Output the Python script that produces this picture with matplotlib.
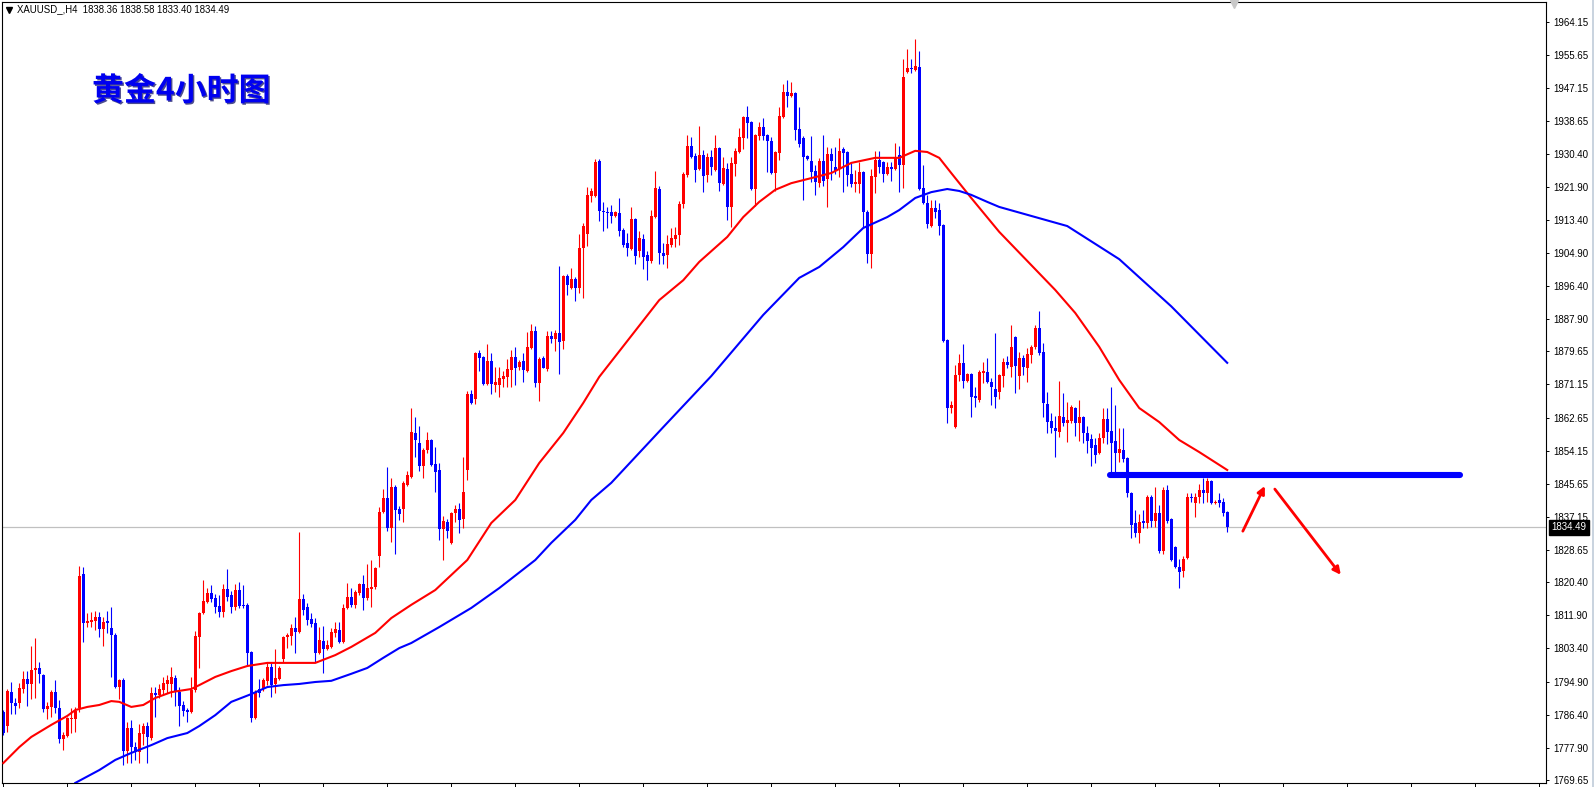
import matplotlib
matplotlib.use("Agg")
import matplotlib.pyplot as plt
import matplotlib.patheffects as pe
import matplotlib.transforms as mtransforms
from matplotlib.lines import Line2D
import numpy as np

# ── data: XAUUSD H4 candles ──────────────────────────────────────────────────
opens = [
    1787.1, 1783.5, 1792.2, 1789.4, 1789.4, 1793.0, 1795.6, 1794.3, 1797.9, 1798.4,
    1796.6, 1787.9, 1788.4, 1792.2, 1788.1, 1780.2, 1780.9, 1785.3, 1785.3, 1788.1,
    1822.5, 1809.9, 1810.2, 1810.5, 1811.5, 1808.4, 1810.5, 1808.6, 1806.9, 1793.5,
    1795.3, 1777.1, 1783.0, 1778.1, 1776.8, 1781.5, 1783.5, 1780.4, 1792.0, 1791.5,
    1792.8, 1794.3, 1794.3, 1795.8, 1792.2, 1788.9, 1787.6, 1787.1, 1792.7, 1806.3,
    1812.5, 1815.3, 1817.6, 1816.3, 1814.3, 1812.8, 1818.7, 1817.1, 1814.0, 1818.4,
    1814.6, 1814.6, 1802.5, 1785.6, 1793.0, 1793.0, 1795.0, 1798.6, 1794.3, 1795.6,
    1800.7, 1806.3, 1806.6, 1808.6, 1807.6, 1816.1, 1814.0, 1810.9, 1809.9, 1802.2,
    1805.3, 1803.3, 1803.8, 1807.4, 1808.1, 1805.1, 1813.8, 1816.6, 1814.6, 1817.6,
    1819.9, 1816.3, 1818.7, 1819.2, 1827.1, 1838.4, 1842.0, 1834.3, 1844.8, 1839.2,
    1839.2, 1845.3, 1847.4, 1858.7, 1856.0, 1850.2, 1854.3, 1856.9, 1850.7, 1849.2,
    1834.0, 1835.9, 1830.5, 1838.2, 1839.2, 1836.6, 1849.2, 1868.7, 1867.4, 1879.2,
    1878.2, 1871.3, 1877.2, 1871.0, 1871.0, 1872.5, 1873.1, 1874.9, 1878.2, 1875.6,
    1877.2, 1874.6, 1880.5, 1884.9, 1871.5, 1877.9, 1875.1, 1883.6, 1882.8, 1884.4,
    1882.3, 1899.0, 1895.9, 1898.2, 1895.9, 1906.2, 1909.8, 1919.5, 1919.5, 1928.5,
    1915.7, 1915.4, 1915.4, 1914.4, 1915.2, 1910.8, 1907.5, 1905.9, 1913.6, 1905.4,
    1908.5, 1904.4, 1902.8, 1914.1, 1921.3, 1904.9, 1904.4, 1906.9, 1908.5, 1909.5,
    1917.5, 1924.9, 1932.3, 1929.8, 1926.4, 1930.0, 1924.9, 1929.5, 1926.2, 1931.8,
    1922.6, 1926.4, 1916.7, 1927.7, 1930.8, 1934.4, 1939.8, 1938.5, 1921.3, 1934.9,
    1937.2, 1935.2, 1933.6, 1925.4, 1930.5, 1939.8, 1946.2, 1945.2, 1945.9, 1936.7,
    1934.4, 1929.8, 1928.5, 1925.9, 1922.8, 1928.5, 1923.9, 1930.3, 1927.0, 1926.4,
    1931.6, 1930.8, 1925.2, 1922.6, 1922.6, 1925.7, 1915.4, 1904.6, 1924.4, 1928.7,
    1928.2, 1925.2, 1926.9, 1926.4, 1930.0, 1927.5, 1951.3, 1952.4, 1951.8, 1952.6,
    1921.6, 1917.7, 1911.8, 1916.4, 1915.9, 1912.1, 1882.6, 1865.1, 1860.2, 1873.6,
    1876.7, 1872.0, 1873.8, 1868.2, 1867.2, 1874.1, 1874.3, 1871.8, 1870.0, 1869.2,
    1873.3, 1876.9, 1875.6, 1883.3, 1873.3, 1877.9, 1875.4, 1878.7, 1880.8, 1885.6,
    1879.5, 1866.1, 1861.8, 1860.0, 1858.9, 1862.8, 1861.3, 1861.8, 1865.1, 1861.3,
    1862.8, 1858.7, 1857.1, 1855.6, 1853.6, 1857.4, 1862.3, 1859.2, 1856.6, 1853.6,
    1854.3, 1852.3, 1843.3, 1835.6, 1833.0, 1836.1, 1835.6, 1842.3, 1836.1, 1838.2,
    1828.4, 1844.1, 1836.6, 1829.4, 1824.3, 1823.3, 1826.6, 1842.3, 1840.7, 1842.3,
    1844.1, 1843.3, 1846.4, 1840.7, 1841.5, 1841.0, 1838.36]

highs = [
    1787.6, 1793.0, 1794.8, 1790.7, 1794.5, 1797.6, 1797.6, 1804.0, 1806.1, 1799.9,
    1796.9, 1789.7, 1792.8, 1795.3, 1790.2, 1782.0, 1785.8, 1788.1, 1788.4, 1824.6,
    1824.3, 1812.5, 1812.8, 1813.0, 1812.8, 1811.5, 1813.0, 1814.0, 1807.4, 1795.6,
    1795.8, 1784.5, 1785.1, 1779.4, 1784.0, 1784.3, 1784.5, 1793.5, 1793.5, 1794.3,
    1796.1, 1796.6, 1798.6, 1796.6, 1793.5, 1789.9, 1788.1, 1796.1, 1807.9, 1812.8,
    1821.0, 1818.9, 1819.7, 1817.4, 1817.1, 1819.9, 1823.8, 1818.1, 1819.9, 1820.5,
    1819.7, 1815.1, 1802.8, 1792.8, 1795.6, 1795.8, 1799.7, 1799.7, 1803.3, 1798.9,
    1806.6, 1807.4, 1809.6, 1811.5, 1833.3, 1817.4, 1815.1, 1812.5, 1811.2, 1808.9,
    1809.1, 1805.6, 1808.6, 1810.2, 1810.2, 1814.8, 1820.2, 1818.9, 1818.4, 1820.2,
    1822.3, 1825.1, 1826.1, 1824.3, 1839.7, 1844.3, 1850.0, 1847.1, 1845.3, 1840.0,
    1846.4, 1848.9, 1865.1, 1862.8, 1860.5, 1854.8, 1858.9, 1857.2, 1855.1, 1851.0,
    1837.4, 1836.6, 1838.4, 1840.2, 1840.7, 1852.5, 1869.5, 1869.7, 1879.5, 1880.0,
    1878.4, 1881.5, 1879.2, 1875.6, 1875.6, 1874.6, 1877.7, 1880.0, 1880.8, 1877.4,
    1879.2, 1884.6, 1886.7, 1886.1, 1878.2, 1878.4, 1884.9, 1884.9, 1885.1, 1901.5,
    1899.2, 1899.5, 1901.0, 1898.7, 1909.8, 1912.6, 1921.8, 1921.6, 1929.0, 1929.0,
    1918.0, 1916.7, 1917.2, 1915.7, 1919.0, 1911.3, 1910.0, 1916.7, 1913.9, 1910.5,
    1909.8, 1905.4, 1915.9, 1925.9, 1922.1, 1907.4, 1909.5, 1911.3, 1911.6, 1918.2,
    1925.7, 1935.2, 1934.6, 1930.5, 1937.5, 1931.3, 1930.5, 1931.3, 1935.2, 1932.1,
    1929.5, 1928.0, 1929.5, 1931.8, 1937.0, 1940.0, 1942.6, 1938.7, 1935.4, 1938.5,
    1939.5, 1935.4, 1934.6, 1931.1, 1942.3, 1948.2, 1949.3, 1948.8, 1946.2, 1942.3,
    1934.9, 1930.0, 1934.9, 1927.5, 1929.3, 1935.2, 1932.1, 1931.8, 1932.1, 1934.4,
    1932.1, 1931.1, 1928.0, 1926.2, 1928.2, 1926.0, 1915.9, 1926.4, 1931.1, 1931.1,
    1928.5, 1928.2, 1928.2, 1933.1, 1932.3, 1954.7, 1957.2, 1954.7, 1959.8, 1956.7,
    1927.5, 1919.8, 1918.5, 1918.5, 1917.7, 1912.3, 1882.8, 1866.9, 1876.1, 1879.0,
    1881.5, 1874.1, 1874.1, 1870.5, 1874.9, 1876.9, 1877.9, 1872.8, 1884.4, 1873.8,
    1877.9, 1878.4, 1886.4, 1883.6, 1879.5, 1878.7, 1880.5, 1881.3, 1886.4, 1890.0,
    1881.8, 1869.2, 1863.8, 1863.1, 1872.0, 1869.0, 1866.6, 1865.9, 1865.4, 1867.2,
    1863.1, 1860.5, 1858.4, 1857.4, 1858.7, 1865.1, 1865.1, 1870.5, 1865.9, 1860.0,
    1860.0, 1852.5, 1843.6, 1838.9, 1837.9, 1838.9, 1842.8, 1842.8, 1844.8, 1840.2,
    1844.8, 1845.3, 1836.9, 1829.7, 1826.4, 1827.1, 1843.3, 1843.3, 1843.3, 1845.6,
    1847.1, 1847.1, 1846.6, 1841.5, 1843.3, 1842.0, 1838.58]

lows = [
    1781.2, 1782.0, 1786.6, 1786.6, 1788.1, 1792.0, 1788.6, 1790.4, 1790.7, 1794.5,
    1787.1, 1785.3, 1785.8, 1786.8, 1779.1, 1777.4, 1780.7, 1781.7, 1782.0, 1787.1,
    1805.1, 1808.9, 1808.9, 1808.1, 1806.3, 1804.0, 1807.4, 1796.1, 1793.3, 1790.4,
    1773.5, 1774.0, 1774.0, 1774.8, 1774.0, 1778.6, 1774.0, 1779.9, 1785.8, 1790.7,
    1791.5, 1792.0, 1791.0, 1788.6, 1783.5, 1786.1, 1784.5, 1786.8, 1792.2, 1798.4,
    1812.2, 1815.1, 1815.3, 1812.5, 1811.5, 1811.5, 1815.6, 1812.5, 1813.3, 1813.8,
    1813.8, 1799.2, 1784.5, 1785.3, 1791.0, 1792.5, 1794.0, 1791.0, 1792.0, 1795.3,
    1799.9, 1803.5, 1804.3, 1802.2, 1807.4, 1812.0, 1809.4, 1808.9, 1799.9, 1801.9,
    1797.1, 1803.0, 1803.5, 1806.3, 1804.8, 1804.8, 1813.5, 1814.0, 1813.8, 1817.1,
    1813.3, 1815.8, 1814.0, 1818.7, 1824.3, 1838.2, 1833.5, 1830.7, 1827.6, 1836.4,
    1835.9, 1845.1, 1847.2, 1852.5, 1848.9, 1847.1, 1853.6, 1850.2, 1843.6, 1831.2,
    1826.1, 1831.8, 1830.2, 1835.9, 1833.0, 1834.3, 1846.6, 1866.1, 1866.1, 1874.6,
    1871.0, 1871.0, 1868.7, 1869.2, 1867.9, 1870.5, 1870.5, 1870.5, 1871.0, 1874.9,
    1871.8, 1874.3, 1880.2, 1870.5, 1866.9, 1875.4, 1874.6, 1881.8, 1879.7, 1873.8,
    1880.2, 1894.1, 1895.6, 1892.6, 1894.6, 1893.3, 1906.7, 1918.0, 1919.3, 1913.1,
    1910.5, 1911.3, 1912.6, 1914.1, 1909.2, 1906.4, 1904.1, 1905.7, 1902.1, 1903.9,
    1900.8, 1898.0, 1902.3, 1913.9, 1902.1, 1902.1, 1901.0, 1906.4, 1906.4, 1906.9,
    1916.4, 1924.4, 1929.3, 1923.1, 1926.2, 1920.5, 1923.1, 1924.9, 1926.0, 1920.8,
    1922.3, 1913.4, 1911.6, 1924.6, 1930.5, 1931.6, 1934.4, 1921.0, 1916.9, 1933.9,
    1933.9, 1925.7, 1925.2, 1920.8, 1928.7, 1939.5, 1942.3, 1944.9, 1933.9, 1932.1,
    1918.5, 1928.7, 1923.1, 1919.8, 1921.8, 1922.1, 1916.7, 1923.6, 1925.2, 1924.4,
    1920.5, 1922.1, 1921.8, 1920.5, 1920.3, 1911.6, 1902.3, 1901.0, 1920.3, 1925.4,
    1923.1, 1924.9, 1923.4, 1926.2, 1920.5, 1921.6, 1951.1, 1951.1, 1951.6, 1921.0,
    1917.5, 1911.3, 1911.5, 1913.9, 1909.5, 1882.0, 1861.3, 1863.8, 1859.9, 1872.0,
    1870.2, 1871.8, 1862.8, 1865.4, 1866.6, 1871.5, 1871.5, 1865.9, 1865.1, 1867.4,
    1870.5, 1875.4, 1873.1, 1869.0, 1870.0, 1873.6, 1871.8, 1876.7, 1880.2, 1878.7,
    1862.8, 1858.7, 1858.7, 1852.5, 1857.7, 1860.5, 1856.4, 1861.3, 1857.9, 1856.6,
    1856.1, 1853.6, 1850.2, 1851.0, 1853.3, 1856.1, 1855.9, 1847.9, 1847.4, 1851.3,
    1851.3, 1842.3, 1831.7, 1832.0, 1830.5, 1834.3, 1834.3, 1834.6, 1834.6, 1827.9,
    1827.6, 1835.6, 1825.8, 1824.0, 1818.9, 1821.7, 1826.4, 1841.0, 1837.1, 1840.7,
    1840.7, 1841.0, 1840.5, 1840.5, 1839.7, 1837.4, 1833.40]

closes = [
    1781.7, 1792.5, 1789.4, 1788.6, 1793.3, 1795.6, 1794.3, 1797.9, 1798.4, 1796.9,
    1787.9, 1788.6, 1792.2, 1788.1, 1780.2, 1781.2, 1785.6, 1785.6, 1787.4, 1822.0,
    1809.9, 1810.5, 1810.7, 1811.5, 1808.4, 1810.2, 1809.9, 1806.9, 1793.5, 1795.3,
    1777.1, 1783.0, 1778.1, 1776.8, 1781.7, 1783.5, 1780.7, 1792.0, 1791.5, 1793.0,
    1794.5, 1795.3, 1796.1, 1792.2, 1788.6, 1787.4, 1787.1, 1792.7, 1806.6, 1812.5,
    1815.6, 1817.6, 1816.1, 1814.0, 1812.8, 1818.7, 1816.6, 1814.0, 1818.4, 1814.3,
    1814.3, 1802.2, 1785.6, 1792.2, 1792.0, 1795.3, 1798.6, 1794.0, 1795.8, 1798.4,
    1806.3, 1806.9, 1808.6, 1807.6, 1816.1, 1813.3, 1810.7, 1809.6, 1802.2, 1805.6,
    1803.3, 1804.3, 1807.6, 1808.4, 1805.1, 1813.8, 1816.6, 1814.6, 1817.9, 1819.9,
    1816.3, 1818.9, 1819.2, 1824.0, 1838.4, 1842.0, 1834.3, 1844.8, 1838.9, 1837.9,
    1845.9, 1847.9, 1858.9, 1856.9, 1850.2, 1854.3, 1856.9, 1850.5, 1848.7, 1834.0,
    1836.1, 1833.5, 1838.2, 1839.2, 1836.4, 1843.6, 1868.7, 1866.4, 1879.2, 1877.9,
    1871.3, 1877.2, 1871.3, 1871.8, 1872.8, 1873.3, 1875.1, 1878.2, 1875.4, 1876.9,
    1874.9, 1880.8, 1884.9, 1871.5, 1877.7, 1875.4, 1883.6, 1882.8, 1884.4, 1882.0,
    1899.0, 1896.7, 1898.2, 1895.9, 1906.2, 1911.8, 1919.8, 1920.8, 1928.2, 1915.7,
    1915.4, 1915.1, 1914.4, 1915.4, 1910.5, 1906.9, 1906.2, 1913.6, 1904.1, 1908.7,
    1903.9, 1902.8, 1914.4, 1921.6, 1904.9, 1904.1, 1907.2, 1908.7, 1909.5, 1917.5,
    1925.2, 1932.3, 1929.5, 1926.2, 1930.0, 1924.6, 1929.5, 1926.9, 1931.8, 1922.8,
    1926.7, 1916.7, 1928.0, 1931.1, 1934.6, 1939.8, 1938.2, 1921.3, 1935.2, 1937.2,
    1934.9, 1933.6, 1925.4, 1930.8, 1940.0, 1946.2, 1945.2, 1945.9, 1936.4, 1932.8,
    1929.5, 1929.0, 1925.7, 1923.1, 1928.5, 1923.4, 1930.3, 1928.5, 1925.9, 1931.1,
    1930.5, 1924.9, 1922.6, 1923.1, 1925.7, 1915.4, 1904.6, 1924.6, 1928.7, 1926.9,
    1925.2, 1926.9, 1926.4, 1929.5, 1927.5, 1950.0, 1952.4, 1952.1, 1952.9, 1921.3,
    1917.7, 1912.3, 1916.4, 1915.4, 1911.8, 1882.3, 1865.1, 1865.9, 1873.6, 1876.7,
    1872.0, 1873.8, 1867.9, 1867.7, 1874.3, 1874.6, 1871.8, 1870.5, 1868.0, 1873.6,
    1876.9, 1876.1, 1880.8, 1875.9, 1877.9, 1875.6, 1879.0, 1880.8, 1885.6, 1879.2,
    1866.4, 1861.5, 1860.0, 1859.2, 1863.1, 1861.3, 1862.0, 1865.4, 1861.3, 1862.8,
    1858.7, 1856.6, 1854.8, 1853.0, 1857.4, 1862.3, 1858.9, 1856.1, 1853.6, 1854.6,
    1852.0, 1843.3, 1835.1, 1833.0, 1835.9, 1835.6, 1842.3, 1836.1, 1838.2, 1828.4,
    1844.1, 1836.1, 1826.1, 1824.3, 1823.0, 1826.4, 1842.3, 1842.0, 1842.3, 1844.1,
    1843.3, 1846.4, 1840.7, 1841.0, 1840.7, 1838.2, 1834.49]

# moving averages, sampled at bar indices
red_ma_idx = [0, 4, 7, 12, 16, 18, 21, 24, 27, 29, 32, 35, 38, 42, 47, 49, 53, 57, 61, 66,
              72, 78, 83, 87, 93, 97, 102, 108, 116, 122, 128, 134, 140, 145, 149, 157,
              164, 170, 174, 181, 185, 189, 193, 197, 202, 207, 212, 218, 224, 228, 231,
              234, 237, 242, 249, 263, 268, 274, 279, 284, 289, 294, 299, 306]
red_ma = [1774.0, 1778.1, 1780.7, 1783.8, 1786.1, 1787.6, 1788.4, 1788.9, 1789.9, 1789.7,
          1788.4, 1788.9, 1790.7, 1792.2, 1793.0, 1794.0, 1796.1, 1797.6, 1798.9, 1799.7,
          1799.7, 1799.7, 1801.7, 1803.8, 1807.4, 1811.2, 1814.6, 1818.4, 1826.1, 1835.6,
          1841.5, 1851.0, 1858.7, 1866.4, 1873.1, 1883.6, 1892.8, 1897.9, 1902.6, 1909.0,
          1914.1, 1918.0, 1921.1, 1922.8, 1924.1, 1925.4, 1928.0, 1929.3, 1929.3, 1931.1,
          1930.8, 1929.3, 1925.4, 1919.0, 1910.3, 1895.4, 1889.5, 1880.8, 1872.3, 1865.1,
          1861.5, 1856.9, 1853.8, 1849.2]

blue_ma_idx = [18, 24, 28, 32, 37, 41, 46, 49, 53, 57, 62, 66, 70, 74, 78, 82, 87, 91, 95,
               99, 102, 109, 117, 124, 133, 137, 143, 147, 152, 165, 177, 190, 199, 204,
               210, 215, 221, 224, 228, 232, 236, 239, 242, 246, 249, 266, 279, 292, 306]
blue_ma = [1768.9, 1772.2, 1774.8, 1776.6, 1778.6, 1780.4, 1781.7, 1783.5, 1786.3, 1789.7,
           1791.7, 1793.5, 1794.0, 1794.3, 1794.8, 1795.1, 1796.9, 1798.4, 1801.0, 1803.5,
           1804.8, 1808.9, 1813.8, 1818.9, 1826.1, 1830.5, 1836.4, 1841.5, 1845.9, 1860.2,
           1873.3, 1889.0, 1898.5, 1901.3, 1906.4, 1911.3, 1914.1, 1915.9, 1919.0, 1920.5,
           1921.3, 1920.8, 1919.8, 1918.0, 1916.7, 1911.8, 1903.3, 1891.2, 1876.7]

y_ticks = [1964.15, 1955.65, 1947.15, 1938.65, 1930.40, 1921.90, 1913.40, 1904.90,
           1896.40, 1887.90, 1879.65, 1871.15, 1862.65, 1854.15, 1845.65, 1837.15,
           1828.65, 1820.40, 1811.90, 1803.40, 1794.90, 1786.40, 1777.90, 1769.65]

# drawn annotations: resistance level and the two arrows
level_price = 1847.8
level_span = (276.7, 364.1)
arrow_up = ((309.9, 1833.5), (315.4, 1845.1))
arrow_down = ((317.9, 1844.3), (334.4, 1822.3))

symbol = "XAUUSD_,H4"
title = "黄金4小时图"

BULL = "#FF0000"
BEAR = "#0000FF"

# ── figure ──────────────────────────────────────────────────────────────────
W, H = 1595, 787
fig = plt.figure(figsize=(W / 100, H / 100), dpi=100)
fig.patch.set_facecolor("white")
ax = fig.add_axes([2 / W, 4 / H, 1544 / W, 781 / H])
ax.set_facecolor("white")

o = np.array(opens); h = np.array(highs); l = np.array(lows); c = np.array(closes)
idx = np.arange(len(c))
cols = np.where(c >= o, BULL, BEAR)

ax.axhline(c[-1], color="#C0C0C0", lw=0.9, zorder=1)

ax.vlines(idx, l, h, colors=cols, lw=0.8, zorder=2)
body = np.maximum(np.abs(c - o), 0.3)
ax.bar(idx, body, bottom=np.minimum(o, c), width=0.78, color=cols, linewidth=0, zorder=2)

ax.plot(red_ma_idx, red_ma, color=BULL, lw=1.5, zorder=3, solid_joinstyle="round")
ax.plot(blue_ma_idx, blue_ma, color=BEAR, lw=1.5, zorder=3, solid_joinstyle="round")

ax.plot(level_span, [level_price, level_price], color=BEAR, lw=4.4,
        solid_capstyle="round", zorder=4)
for start, end in (arrow_up, arrow_down):
    ax.annotate("", xy=end, xytext=start, zorder=5,
                arrowprops=dict(arrowstyle="-|>", color=BULL, lw=2.0,
                                mutation_scale=11, shrinkA=0, shrinkB=0))

ax.set_xlim(-0.325, 385.7)
ax.set_ylim(1768.88, 1969.29)

ax.yaxis.tick_right()
ax.set_yticks(y_ticks)
ax.set_yticklabels([f"{v:.2f}" for v in y_ticks], family="Liberation Sans")
ax.tick_params(axis="y", direction="out", length=2.5, width=0.7, pad=2.5,
               labelsize=7.0, colors="black")
ax.set_xticks(np.arange(0, 386, 16) - 0.15)
ax.set_xticklabels([])
ax.tick_params(axis="x", direction="out", length=3, width=0.7)
for sp in ax.spines.values():
    sp.set_color("black")
    sp.set_linewidth(0.8)

# last price tag on the scale
blend = mtransforms.blended_transform_factory(ax.transAxes, ax.transData)
ax.text(1.0034, c[-1], f"{closes[-1]:.2f}", transform=blend, ha="left", va="center",
        color="white", fontsize=7.0, family="Liberation Sans", clip_on=False,
        bbox=dict(boxstyle="square,pad=0.25", fc="black", ec="black"))

# header line and title
fig.add_artist(Line2D([9.3 / W], [1 - 10 / H], marker="v", markersize=4.2,
                      color="black", linestyle="none", transform=fig.transFigure))
fig.text(17 / W, 1 - 9.5 / H,
         f"{symbol}  {opens[-1]:.2f} {highs[-1]:.2f} {lows[-1]:.2f} {closes[-1]:.2f}",
         fontsize=6.9, family="Liberation Sans", ha="left", va="center", color="black")
fig.text(92 / W, 1 - 91.5 / H, title, fontsize=23, fontweight="bold",
         family=["Noto Sans CJK SC", "DejaVu Sans"], color="#0000F0",
         ha="left", va="center",
         path_effects=[pe.withSimplePatchShadow(offset=(1, -1), shadow_rgbFace="#000060",
                                                alpha=0.7)])

# chart shift marker and window edge
fig.add_artist(Line2D([1234 / W], [1 - 4 / H], marker="v", markersize=6,
                      color="#C8C8C8", linestyle="none", transform=fig.transFigure))
fig.add_artist(Line2D([1592.5 / W, 1592.5 / W], [0, 1], color="#C9D3DF", lw=1.4,
                      transform=fig.transFigure))

fig.savefig("out.png", dpi=100, facecolor="white")
